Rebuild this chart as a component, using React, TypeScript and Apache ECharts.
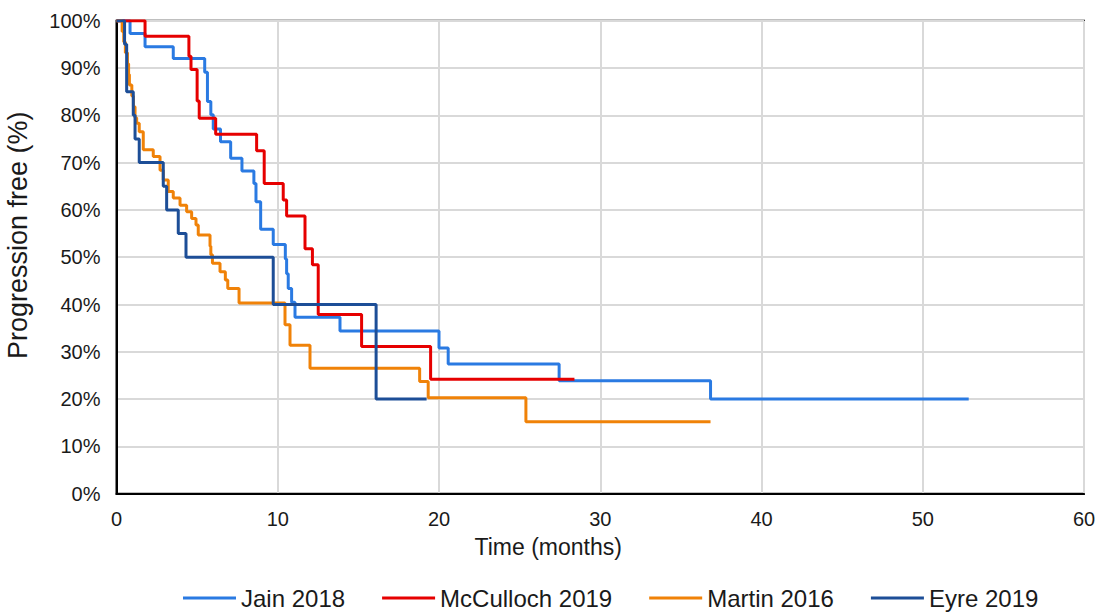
import React, { useEffect, useRef } from "react";
import * as echarts from "echarts";

// Kaplan-Meier steps: time (months) and progression-free (%) after each step
const jainTime = [0, 0.84, 1.77, 3.52, 5.47, 5.64, 5.85, 6.0, 6.45, 7.08, 7.78, 8.52, 8.65, 8.94, 9.72, 10.47, 10.55, 10.65, 10.86, 11.07, 13.86, 20.0, 20.57, 27.45, 36.84, 52.85];
const jainPct = [100, 97.3, 94.5, 92.0, 89.1, 82.9, 80.1, 77.1, 74.4, 70.9, 68.2, 65.6, 61.7, 55.9, 52.7, 49.6, 46.5, 43.4, 40.5, 37.3, 34.4, 30.8, 27.4, 23.9, 20.0, 20.0];

const mccTime = [0, 1.77, 4.49, 4.62, 5.0, 5.13, 6.15, 8.69, 9.16, 10.34, 10.55, 11.69, 12.15, 12.51, 15.2, 19.48, 28.4];
const mccPct = [100, 96.7, 92.5, 89.7, 83.0, 79.4, 76.0, 72.5, 65.6, 62.1, 58.7, 51.8, 48.4, 37.9, 31.1, 24.2, 24.2];

const martinTime = [0, 0.35, 0.45, 0.55, 0.68, 0.75, 0.8, 0.95, 1.05, 1.15, 1.25, 1.41, 1.66, 2.28, 2.7, 2.9, 3.21, 3.52, 3.94, 4.35, 4.66, 4.93, 5.07, 5.8, 5.85, 5.95, 6.42, 6.75, 6.9, 7.6, 10.45, 10.76, 12.0, 18.8, 19.33, 25.39, 36.84];
const martinPct = [100, 97.7, 95.5, 93.2, 90.9, 88.6, 86.4, 84.1, 81.8, 79.5, 78.3, 76.5, 72.7, 71.3, 68.4, 66.3, 63.9, 62.5, 61.0, 59.6, 58.2, 56.8, 54.7, 52.3, 50.5, 48.7, 46.9, 45.2, 43.4, 40.3, 35.7, 31.4, 26.5, 23.7, 20.3, 15.2, 15.2];

const eyreTime = [0, 0.5, 0.63, 1.04, 1.15, 1.41, 2.9, 3.11, 3.83, 4.31, 9.72, 16.1, 19.23];
const eyrePct = [100, 95, 85, 80, 75, 70, 65, 60, 55, 50, 40, 20, 20];

const seriesNames = ["Jain 2018", "McCulloch 2019", "Martin 2016", "Eyre 2019"];
const seriesColors = ["#2A7AE2", "#E60000", "#F08208", "#1D4E97"];

const xMin = 0;
const xMax = 60;
const xStep = 10;
const yMin = 0;
const yMax = 100;
const yStep = 10;

const FONT = "'Liberation Sans', Arial, sans-serif";
const TEXT = "#1a1a1a";

export default function App() {
  const ref = useRef<HTMLDivElement>(null);

  useEffect(() => {
    if (!ref.current) return;
    const chart = echarts.init(ref.current, null, { renderer: "svg" });
    const pair = (t: number[], v: number[]) => t.map((x, i) => [x, v[i]]);
    const allData = [
      pair(jainTime, jainPct),
      pair(mccTime, mccPct),
      pair(martinTime, martinPct),
      pair(eyreTime, eyrePct),
    ];

    chart.setOption({
      animation: false,
      backgroundColor: "#ffffff",
      textStyle: { fontFamily: FONT, color: TEXT },
      grid: {
        left: 116.5,
        right: 20,
        top: 20.7,
        bottom: 118.3,
        containLabel: false,
        outerBoundsMode: "none",
        show: true,
        borderColor: "#000",
        borderWidth: 2,
      },
      legend: {
        data: seriesNames,
        icon: "rect",
        left: 183,
        top: 586,
        padding: 0,
        itemWidth: 53,
        itemHeight: 3,
        itemGap: 37,
        textStyle: { fontFamily: FONT, fontSize: 24, lineHeight: 24, color: TEXT, padding: [0, 0, 0, 0] },
      },
      xAxis: {
        type: "value",
        min: xMin,
        max: xMax,
        interval: xStep,
        name: "Time (months)",
        nameLocation: "middle",
        nameGap: 42,
        nameTextStyle: { fontFamily: FONT, fontSize: 23, color: TEXT, padding: [0, 104, 0, 0] },
        axisLine: { show: true, lineStyle: { color: "#000", width: 2 } },
        axisTick: { show: false },
        axisLabel: { fontFamily: FONT, fontSize: 20, color: TEXT, margin: 15 },
        splitLine: { show: true, lineStyle: { color: "#d9d9d9", width: 2 } },
      },
      yAxis: {
        type: "value",
        min: yMin,
        max: yMax,
        interval: yStep,
        name: "Progression free (%)",
        nameLocation: "middle",
        nameGap: 85,
        nameTextStyle: { fontFamily: FONT, fontSize: 27, color: TEXT, padding: [0, 0, 0, 44] },
        axisLine: { show: true, lineStyle: { color: "#000", width: 2 } },
        axisTick: { show: false },
        axisLabel: { fontFamily: FONT, fontSize: 20, color: TEXT, margin: 16, formatter: "{value}%" },
        splitLine: { show: true, lineStyle: { color: "#d9d9d9", width: 2 } },
      },
      series: seriesNames.map((name, i) => ({
        name,
        type: "line",
        step: "end",
        symbol: "none",
        showSymbol: false,
        data: allData[i],
        color: seriesColors[i],
        lineStyle: { color: seriesColors[i], width: 3 },
        itemStyle: { color: seriesColors[i] },
        emphasis: { disabled: true },
        z: 2 + i,
      })),
    });

    return () => chart.dispose();
  }, []);

  return (
    <div
      ref={ref}
      style={{ position: "fixed", left: 0, top: 0, width: 1104, height: 612, background: "#fff" }}
    />
  );
}
